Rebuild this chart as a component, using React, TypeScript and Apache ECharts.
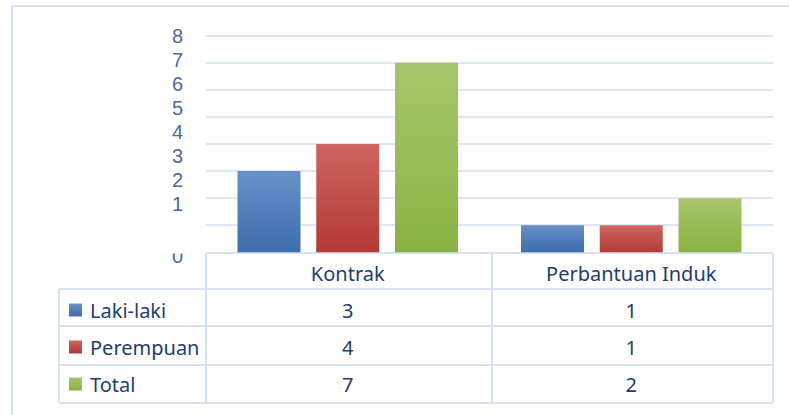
import React, { useEffect, useRef } from "react";
import * as echarts from "echarts";

const categories = ["Kontrak", "Perbantuan Induk"];
const seriesNames = ["Laki-laki", "Perempuan", "Total"];
const lakiLaki = [3, 1];
const perempuan = [4, 1];
const total = [7, 2];
const yTicks = [0, 1, 2, 3, 4, 5, 6, 7, 8];

const grad = (top: string, bottom: string) =>
  new echarts.graphic.LinearGradient(0, 0, 0, 1, [
    { offset: 0, color: top },
    { offset: 1, color: bottom },
  ]);

export default function App() {
  const ref = useRef<HTMLDivElement>(null);
  useEffect(() => {
    if (!ref.current) return;
    const chart = echarts.init(ref.current, undefined, { renderer: "svg" });
    const values = [lakiLaki, perempuan, total];
    const colors = [
      grad("#6891c9", "#3c6dae"),
      grad("#cd6562", "#b43935"),
      grad("#a7c56b", "#8ab243"),
    ];
    const tableText = "#1f3d6e";
    const labelColor = "#4a6b9a";
    const labelFont = "Liberation Sans";
    const border = "#d5e2f3";
    const gridTop = 35.7;
    const gridBottomY = 252.3;
    const labelStep = 24.1;
    const yMax = yTicks[yTicks.length - 1];
    // label scale: ticks 1..8 drawn with the compressed spacing of the reference
    const labelMin = yMax - (gridBottomY - gridTop) / labelStep;
    const rowOffsets = [37, 74.3, 111];
    const extraX = values.map((arr, i) => ({
      type: "category",
      gridIndex: 0,
      position: "bottom",
      offset: rowOffsets[i],
      data: categories,
      axisLine: { show: false },
      axisTick: { show: false },
      splitLine: { show: false },
      axisLabel: {
        interval: 0,
        margin: 11,
        fontFamily: "Noto Sans",
        fontSize: 20,
        lineHeight: 20,
        color: tableText,
        formatter: (_v: string, idx: number) => String(arr[idx]),
      },
    }));
    const line = (x1: number, y1: number, x2: number, y2: number) => ({
      type: "line",
      shape: { x1, y1, x2, y2 },
      style: { stroke: border, lineWidth: 2 },
      z: 1,
    });
    chart.setOption({
      animation: false,
      backgroundColor: "#ffffff",
      grid: { left: 206, right: 16, top: gridTop, bottom: 415 - gridBottomY, containLabel: false },
      legend: {
        orient: "vertical",
        left: 69,
        top: 300,
        padding: 0,
        itemWidth: 13,
        itemHeight: 13,
        itemGap: 17,
        icon: "rect",
        data: seriesNames,
        textStyle: {
          fontFamily: "Noto Sans",
          fontSize: 20,
          lineHeight: 20,
          color: tableText,
          padding: [0, 0, 0, 3],
        },
      },
      xAxis: [
        {
          type: "category",
          data: categories,
          axisLine: { show: false },
          axisTick: { show: false },
          axisLabel: {
            interval: 0,
            margin: 11,
            fontFamily: "Noto Sans",
            fontSize: 20,
            lineHeight: 20,
            color: tableText,
          },
        },
        ...extraX,
      ],
      yAxis: [
        {
          type: "value",
          min: 0,
          max: yMax,
          interval: 1,
          axisLine: { show: false },
          axisTick: { show: false },
          splitLine: { lineStyle: { color: "#dde7f4", width: 2 } },
          axisLabel: {
            customValues: [yTicks[0]],
            margin: 23,
            fontFamily: labelFont,
            fontSize: 20,
            color: labelColor,
            formatter: (v: number) => `{z|${v}}`,
            rich: {
              z: { fontFamily: labelFont, fontSize: 20, color: labelColor, padding: [7.4, 0, 0, 0] },
            },
          },
        },
        {
          type: "value",
          position: "left",
          min: labelMin,
          max: yMax,
          axisLine: { show: false },
          axisTick: { show: false },
          splitLine: { show: false },
          axisLabel: {
            customValues: yTicks.slice(1),
            margin: 23,
            fontFamily: labelFont,
            fontSize: 20,
            lineHeight: 20,
            color: labelColor,
          },
        },
      ],
      series: values.map((arr, i) => ({
        name: seriesNames[i],
        type: "bar",
        data: arr,
        barWidth: 63,
        barGap: "25%",
        itemStyle: { color: colors[i] },
      })),
      graphic: [
        line(12, 6, 789, 6),
        line(12, 6, 12, 415),
        line(206, 253, 206, 403),
        line(492, 253, 492, 403),
        line(773, 253, 773, 403),
        line(59, 289, 59, 403),
        line(206, 253, 773, 253),
        line(59, 289, 773, 289),
        line(59, 326, 773, 326),
        line(59, 365, 773, 365),
        line(59, 403, 773, 403),
        {
          type: "rect",
          shape: { x: 150, y: 238, width: 50, height: 15.5 },
          style: { fill: "#ffffff" },
          z: 100,
        },
      ],
    });
    return () => chart.dispose();
  }, []);
  return (
    <div
      ref={ref}
      style={{ position: "fixed", left: 0, top: 0, width: 789, height: 415 }}
    />
  );
}
